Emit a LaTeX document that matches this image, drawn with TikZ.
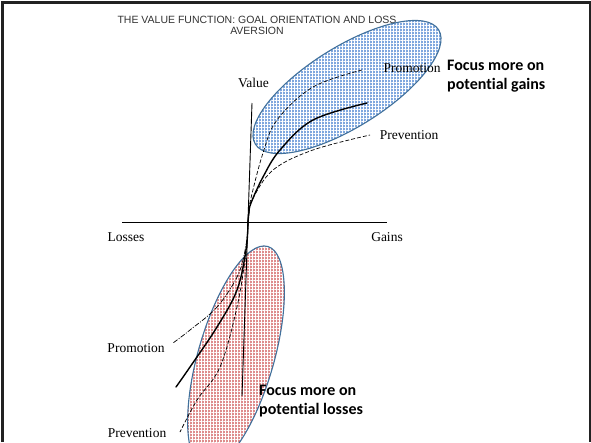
\documentclass[tikz,border=0pt]{standalone}
\usepackage{fontspec}
\setmainfont{Liberation Serif}
\newfontfamily\titlefont{Liberation Sans}
\newfontfamily\notefont[Ligatures=NoCommon]{Carlito}
\usetikzlibrary{patterns.meta}
\definecolor{rimblue}{HTML}{41719C}
\definecolor{gainfill}{HTML}{7FA7DE}
\definecolor{lossfill}{HTML}{DE8C8C}
\definecolor{framegray}{HTML}{222222}
\definecolor{titlegray}{HTML}{333333}
\tikzset{
  axisline/.style={line width=0.9pt, black},
  maincurve/.style={line width=1.4pt, black, line cap=round},
  promcurve/.style={line width=0.7pt, black, dash pattern=on 4pt off 2pt},
  promlow/.style={line width=0.7pt, black, dash pattern=on 5pt off 1.5pt on 1pt off 1.5pt},
  prevcurve/.style={line width=0.7pt, black, dash pattern=on 4pt off 2pt},
  region/.style={draw=rimblue, line width=1.1pt,
    preaction={fill=#1},
    preaction={pattern={Lines[angle=0,distance=3pt,line width=0.55pt]}, pattern color=white},
    preaction={pattern={Lines[angle=90,distance=3pt,line width=0.55pt]}, pattern color=white}},
  axislabel/.style={font=\fontsize{13.5}{15}\selectfont, inner sep=0pt},
  note/.style={font=\notefont\bfseries\fontsize{16}{18.5}\selectfont, align=left, inner sep=0pt, anchor=north west},
}
\begin{document}
\begin{tikzpicture}[x=1pt, y=-1pt]
  \useasboundingbox (0,0) rectangle (591,442);
  \fill[white] (0,0) rectangle (591,442);

  % page frame
  \draw[framegray, line width=3pt] (2,442) -- (2,2) -- (591,2);
  \draw[framegray, line width=2pt] (589.5,2) -- (589.5,442);

  % title
  \node[font=\titlefont\fontsize{10.5}{11.5}\selectfont, text=titlegray, align=center, inner sep=0pt]
    (title) at (257,25.5) {THE VALUE FUNCTION: GOAL ORIENTATION AND LOSS\\AVERSION};

  % shaded regions
  \draw[region=gainfill, rotate around={32:(347,87)}]
    (347,87) ellipse [x radius=108, y radius=40];
  \draw[region=lossfill, rotate around={74:(236,357)}]
    (236,357) ellipse [x radius=115, y radius=38];

  % axes
  \coordinate (O) at (248,222);
  \coordinate (xl) at (122,222);
  \coordinate (xr) at (387,222);
  \coordinate (vt) at (252,103);
  \coordinate (vb) at (242,396);
  \draw[axisline] (xl) -- (xr);
  \draw[axisline] (vt) -- (vb);

  % gain side
  \draw[promcurve] plot[smooth, tension=0.6] coordinates
    {(O) (249,212) (251,198) (263,153) (277,120) (313,87) (362,70)};
  \draw[maincurve] plot[smooth, tension=0.6] coordinates
    {(O) (249,212) (251,203) (263,177) (280,150) (313,120) (367,103)};
  \draw[prevcurve] plot[smooth, tension=0.6] coordinates
    {(O) (249,212) (252,200) (273,170) (313,150) (370,135)};

  % loss side
  \draw[promlow] plot[smooth, tension=0.6] coordinates
    {(O) (246,245) (238,275) (217,307) (190,330) (173,343)};
  \draw[maincurve] plot[smooth, tension=0.6] coordinates
    {(O) (246,250) (237,290) (217,327) (190,367) (176,387)};
  \draw[prevcurve] plot[smooth, tension=0.6] coordinates
    {(O) (246,252) (237,307) (220,367) (197,400) (180,432)};

  % labels
  \node[axislabel] (value) at (253.5,83) {Value};
  \node[axislabel] (losses) at (126,237) {Losses};
  \node[axislabel] (gains) at (387,237) {Gains};
  \node[axislabel] (promhi) at (412,68) {Promotion};
  \node[axislabel] (prevhi) at (409,135) {Prevention};
  \node[axislabel] (promlo) at (136,348) {Promotion};
  \node[axislabel] (prevlo) at (137,433) {Prevention};

  \node[note] (gainnote) at (447,60) {Focus more on\\potential gains};
  \node[note] (lossnote) at (259,385) {Focus more on\\potential losses};
\end{tikzpicture}
\end{document}
